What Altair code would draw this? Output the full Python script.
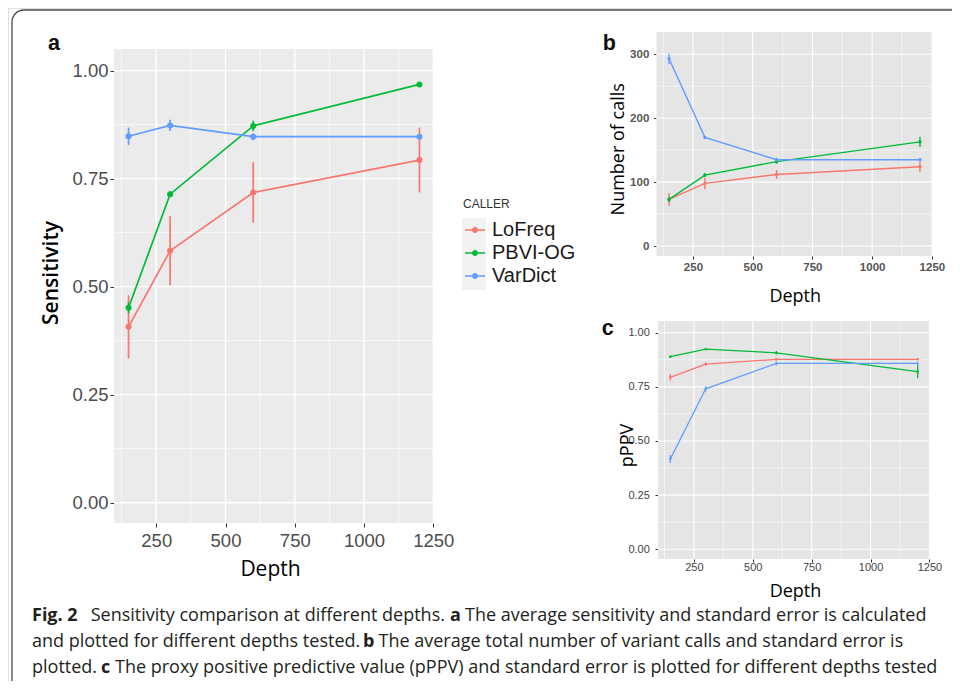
import altair as alt
import pandas as pd

# ---------------- data ----------------
callers = ["LoFreq", "PBVI-OG", "VarDict"]
caller_colors = ["#F8766D", "#00BA38", "#619CFF"]
depths = [150, 300, 600, 1200]

# (a) sensitivity: mean and standard error
sens_lofreq = [0.407, 0.583, 0.718, 0.793]
sens_pbvi = [0.451, 0.714, 0.872, 0.968]
sens_vardict = [0.848, 0.873, 0.847, 0.847]
sens_se_lofreq = [0.073, 0.080, 0.070, 0.075]
sens_se_pbvi = [0.012, 0.006, 0.012, 0.004]
sens_se_vardict = [0.020, 0.013, 0.008, 0.006]

# (b) number of calls: mean and standard error
calls_lofreq = [73, 98, 112, 124]
calls_pbvi = [73, 111, 132, 163]
calls_vardict = [293, 170, 135, 135]
calls_se_lofreq = [10, 9, 7, 8]
calls_se_pbvi = [4, 3, 3, 8]
calls_se_vardict = [8, 2, 3, 2]

# (c) pPPV: mean and standard error
ppv_lofreq = [0.794, 0.855, 0.877, 0.877]
ppv_pbvi = [0.889, 0.924, 0.907, 0.820]
ppv_vardict = [0.417, 0.741, 0.858, 0.858]
ppv_se_lofreq = [0.015, 0.008, 0.005, 0.004]
ppv_se_pbvi = [0.006, 0.004, 0.008, 0.030]
ppv_se_vardict = [0.018, 0.012, 0.008, 0.005]

x_major = [250, 500, 750, 1000, 1250]
x_minor = [125, 375, 625, 875, 1125]
prop_major = [0.0, 0.25, 0.5, 0.75, 1.0]
prop_minor = [0.125, 0.375, 0.625, 0.875]
calls_major = [0, 100, 200, 300]
calls_minor = [50, 150, 250]

caption_1 = ["Fig. 2", "Sensitivity comparison at different depths.", "a",
             "The average sensitivity and standard error is calculated"]
caption_2 = ["and plotted for different depths tested.", "b",
             "The average total number of variant calls and standard error is"]
caption_3 = ["plotted.", "c",
             "The proxy positive predictive value (pPPV) and standard error is plotted for different depths tested"]

# ---------------- layout constants ----------------
W, H = 944, 673
x_dom = [97.5, 1252.5]
color_scale = alt.Scale(domain=callers, range=caller_colors)
SYM = "M-1,-0.075L1,-0.075L1,0.075L-1,0.075ZM0.3,0A0.3,0.3,0,1,1,-0.3,0A0.3,0.3,0,1,1,0.3,0Z"


def long_df(means, ses):
    rows = []
    for c, m, s in zip(callers, means, ses):
        for d, v, e in zip(depths, m, s):
            rows.append({"Depth": d, "CALLER": c, "value": v, "lo": v - e, "hi": v + e})
    return pd.DataFrame(rows)


def panel(df, xr, ydom, yr, y_major, y_minor, yfmt, st, legend=None):
    xs = alt.Scale(domain=x_dom, range=xr, nice=False, zero=False)
    ys = alt.Scale(domain=ydom, range=yr, nice=False, zero=False)
    xaxis = alt.Axis(
        values=x_major, orient="bottom", offset=yr[0] - H, grid=False, domain=False,
        format="d", labelFlush=False, labelOverlap=False, labelFont="Liberation Sans",
        labelFontSize=st["lfs"], labelFontWeight=st["lfw"], labelColor=st["lc"],
        labelBaseline="alphabetic", labelPadding=st["xlp"], tickSize=st["ts"],
        tickColor="#333333", tickWidth=1, title="Depth", titleFont="Open Sans",
        titleFontSize=st["tfs"], titleFontWeight="normal", titleColor="#000000",
        titleBaseline="alphabetic", titleX=st["xtx"], titleY=st["xty"])
    yaxis = alt.Axis(
        values=y_major, orient="left", offset=-xr[0], grid=False, domain=False, format=yfmt,
        labelFlush=False, labelOverlap=False, labelFont="Liberation Sans",
        labelFontSize=st["lfs"], labelFontWeight=st["lfw"], labelColor=st["lc"],
        labelPadding=st["ylp"], tickSize=st["ts"], tickColor="#333333", tickWidth=1,
        title=st["ytitle"], titleFont="Open Sans", titleFontSize=st["tfs"],
        titleFontWeight=st["ytw"], titleColor="#000000", titleAngle=270,
        titleAlign="center", titleBaseline="alphabetic", titleX=st["ytx"], titleY=st["yty"])

    bg = pd.DataFrame({"x0": [x_dom[0]], "x1": [x_dom[1]], "y0": [ydom[0]], "y1": [ydom[1]]})
    vg = pd.DataFrame({"g": x_minor + x_major,
                       "w": [st["minw"]] * len(x_minor) + [st["majw"]] * len(x_major),
                       "y0": ydom[0], "y1": ydom[1]})
    hg = pd.DataFrame({"g": y_minor + y_major,
                       "w": [st["minw"]] * len(y_minor) + [st["majw"]] * len(y_major),
                       "x0": x_dom[0], "x1": x_dom[1]})

    back = alt.Chart(bg).mark_rect(color=st["bg"]).encode(
        x=alt.X("x0:Q", scale=xs, axis=xaxis), x2="x1:Q",
        y=alt.Y("y0:Q", scale=ys, axis=yaxis), y2="y1:Q")
    vgrid = alt.Chart(vg).mark_rule(color="white").encode(
        x=alt.X("g:Q", scale=xs),
        y=alt.Y("y0:Q", scale=ys), y2="y1:Q",
        strokeWidth=alt.StrokeWidth("w:Q", scale=None))
    hgrid = alt.Chart(hg).mark_rule(color="white").encode(
        y=alt.Y("g:Q", scale=ys),
        x=alt.X("x0:Q", scale=xs), x2="x1:Q",
        strokeWidth=alt.StrokeWidth("w:Q", scale=None))
    base = alt.Chart(df).encode(
        x=alt.X("Depth:Q", scale=xs),
        color=alt.Color("CALLER:N", scale=color_scale))
    err = base.mark_rule(strokeWidth=st["lw"]).encode(
        y=alt.Y("lo:Q", scale=ys), y2="hi:Q")
    line = base.mark_line(strokeWidth=st["lw"]).encode(
        y=alt.Y("value:Q", scale=ys))
    if legend is not None:
        pcolor = alt.Color("CALLER:N", scale=color_scale, legend=legend)
    else:
        pcolor = alt.Color("CALLER:N", scale=color_scale)
    pts = alt.Chart(df).mark_circle(size=st["pt"], opacity=1).encode(
        x=alt.X("Depth:Q", scale=xs),
        y=alt.Y("value:Q", scale=ys),
        color=pcolor)
    return alt.layer(back, vgrid, hgrid, err, line, pts)


def txt(s, x, y, size, weight="normal", font="Open Sans", color="#231F20"):
    return alt.Chart(pd.DataFrame({"t": [s]})).mark_text(
        align="left", baseline="alphabetic", font=font, fontSize=size,
        fontWeight=weight, color=color).encode(
        text="t:N", x=alt.value(x), y=alt.value(y))


legend_a = alt.Legend(
    title="CALLER", orient="none", legendX=455, legendY=191,
    titleFont="Liberation Sans", titleFontSize=12, titleFontWeight="normal",
    titleColor="#333333", titlePadding=9, labelFont="Liberation Sans",
    labelFontSize=20, labelColor="#1a1a1a", labelOffset=7, symbolType=SYM,
    symbolSize=400, symbolStrokeWidth=0, symbolOffset=2, rowPadding=3, symbolOpacity=1)

style_a = dict(lfs=18.5, lfw="normal", lc="#4D4D4D", xlp=19.7, ylp=2, ts=4,
               tfs=21, ytitle="Sensitivity", ytw=600, xtx=262, xty=52, ytx=-57, yty=264.5,
               bg="#EBEBEB", majw=1.4, minw=0.7, lw=1.7, pt=36)
style_b = dict(lfs=11.5, lfw="bold", lc="#555555", xlp=11, ylp=4.7, ts=3,
               tfs=18, ytitle="Number of calls", ytw="normal", xtx=786.7, xty=45.7,
               ytx=-32.7, yty=140.8, bg="#E5E5E5", majw=1.1, minw=0.55, lw=1.4, pt=12)
style_c = dict(lfs=11, lfw="normal", lc="#444444", xlp=8.7, ylp=5.7, ts=3,
               tfs=18, ytitle="pPPV", ytw="normal", xtx=787, xty=37,
               ytx=-25.5, yty=437, bg="#E5E5E5", majw=1.1, minw=0.55, lw=1.3, pt=6)

panel_a = panel(long_df([sens_lofreq, sens_pbvi, sens_vardict],
                        [sens_se_lofreq, sens_se_pbvi, sens_se_vardict]),
                [106, 426], [-0.047, 1.05], [515, 41], prop_major, prop_minor, ".2f",
                style_a, legend=legend_a)
panel_b = panel(long_df([calls_lofreq, calls_pbvi, calls_vardict],
                        [calls_se_lofreq, calls_se_pbvi, calls_se_vardict]),
                [648.5, 924.5], [-15.6, 334.9], [248, 24], calls_major, calls_minor, "d",
                style_b)
panel_c = panel(long_df([ppv_lofreq, ppv_pbvi, ppv_vardict],
                        [ppv_se_lofreq, ppv_se_pbvi, ppv_se_vardict]),
                [650, 922], [-0.045, 1.054], [551, 313], prop_major, prop_minor, ".2f",
                style_c)

frame = alt.Chart(pd.DataFrame({"k": [0]})).mark_rect(
    fill="white", fillOpacity=0, stroke="#4a4a4a", strokeWidth=1.3, cornerRadius=12).encode(
    x=alt.value(4), x2=alt.value(1400), y=alt.value(2), y2=alt.value(1400))
key_bg = alt.Chart(pd.DataFrame({"k": [0]})).mark_rect(color="#F2F2F2").encode(
    x=alt.value(454), x2=alt.value(478), y=alt.value(210), y2=alt.value(282))

labels = [
    txt("a", 40, 42, 21.5, "bold", "Liberation Sans", "#111111"),
    txt("b", 594.7, 42, 21.5, "bold", "Liberation Sans", "#111111"),
    txt("c", 593.7, 327, 21.5, "bold", "Liberation Sans", "#111111"),
]
cap_x = [[24, 82.7, 442, 457], [24, 355, 370.5], [24, 93, 107]]
cap_y = [613, 639, 665]
cap_bold = [[True, False, True, False], [False, True, False], [False, True, False]]
caption = []
for segs, xs_, y_, bs in zip([caption_1, caption_2, caption_3], cap_x, cap_y, cap_bold):
    for s, x_, b in zip(segs, xs_, bs):
        caption.append(txt(s, x_, y_, 18, "bold" if b else "normal"))

chart = alt.layer(frame, key_bg, panel_a, panel_b, panel_c, *labels, *caption).resolve_scale(
    x="independent", y="independent").properties(
    width=W, height=H, autosize=alt.AutoSizeParams(type="none"), padding=0
).configure_view(stroke=None).configure(background="white")

chart.save("out.html", embed_options={"renderer": "svg", "actions": False})
